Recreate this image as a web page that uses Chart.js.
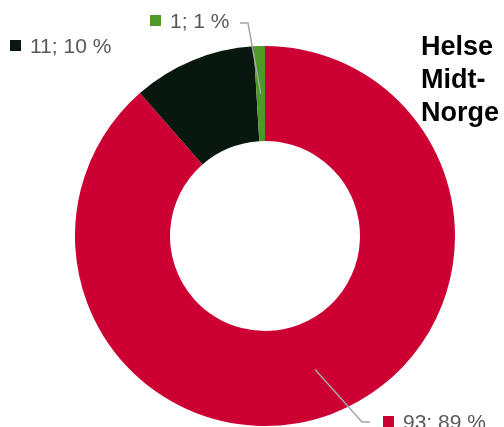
<!DOCTYPE html>
<html>
<head>
<meta charset="utf-8">
<script src="https://cdn.jsdelivr.net/npm/chart.js@4"></script>
<style>
  html, body { margin: 0; padding: 0; background: #fff; overflow: hidden; }
  canvas { display: block; }
</style>
</head>
<body>
<canvas id="myChart" width="504" height="427"></canvas>
<script>
// data
var labels = ["Ja", "Nei", "Vet ikke"];
var values = [93, 11, 1];
var percents = [89, 10, 1];
var colors = ['#cc0033', '#08180f', '#4e9a28'];
var titleLines = ["Helse", "Midt-", "Norge"];

var FONT = '"Liberation Sans", Arial, sans-serif';

// label placement per slice: square x/y, with optional leader line
var labelPos = [
    { x: 383, y: 416, leader: [[362, 422], [370, 422]] },
    { x: 10, y: 40, leader: null },
    { x: 150, y: 15, leader: [[248, 23], [240, 23]] }
];

const sliceLabels = {
    id: 'sliceLabels',
    afterDatasetsDraw(chart) {
        var ctx = chart.ctx;
        var meta = chart.getDatasetMeta(0);
        ctx.save();
        meta.data.forEach(function (arc, i) {
            var p = labelPos[i];
            if (p.leader) {
                var c = arc.tooltipPosition();
                ctx.strokeStyle = '#a6a6a6';
                ctx.lineWidth = 1.5;
                ctx.beginPath();
                ctx.moveTo(c.x, c.y);
                ctx.lineTo(p.leader[0][0], p.leader[0][1]);
                ctx.lineTo(p.leader[1][0], p.leader[1][1]);
                ctx.stroke();
            }
            ctx.fillStyle = colors[i];
            ctx.fillRect(p.x, p.y, 11, 11);
            ctx.fillStyle = '#595959';
            ctx.font = '21px ' + FONT;
            ctx.textBaseline = 'alphabetic';
            ctx.textAlign = 'left';
            ctx.fillText(values[i] + '; ' + percents[i] + ' %', p.x + 20, p.y + 13);
        });
        // title on the right
        ctx.fillStyle = '#000';
        ctx.font = 'bold 27px ' + FONT;
        titleLines.forEach(function (t, k) {
            ctx.fillText(t, 421, 55 + k * 33);
        });
        ctx.restore();
    }
};

var ctx = document.getElementById("myChart");
var myChart = new Chart(ctx, {
    type: 'doughnut',
    data: {
        labels: labels,
        datasets: [{
            data: values,
            backgroundColor: colors,
            borderWidth: 0
        }]
    },
    options: {
        responsive: false,
        animation: false,
        cutout: '50%',
        layout: {
            padding: { left: 75, right: 49, top: 46, bottom: 1 }
        },
        plugins: {
            legend: { display: false },
            tooltip: { enabled: false }
        }
    },
    plugins: [sliceLabels]
});
</script>
</body>
</html>
